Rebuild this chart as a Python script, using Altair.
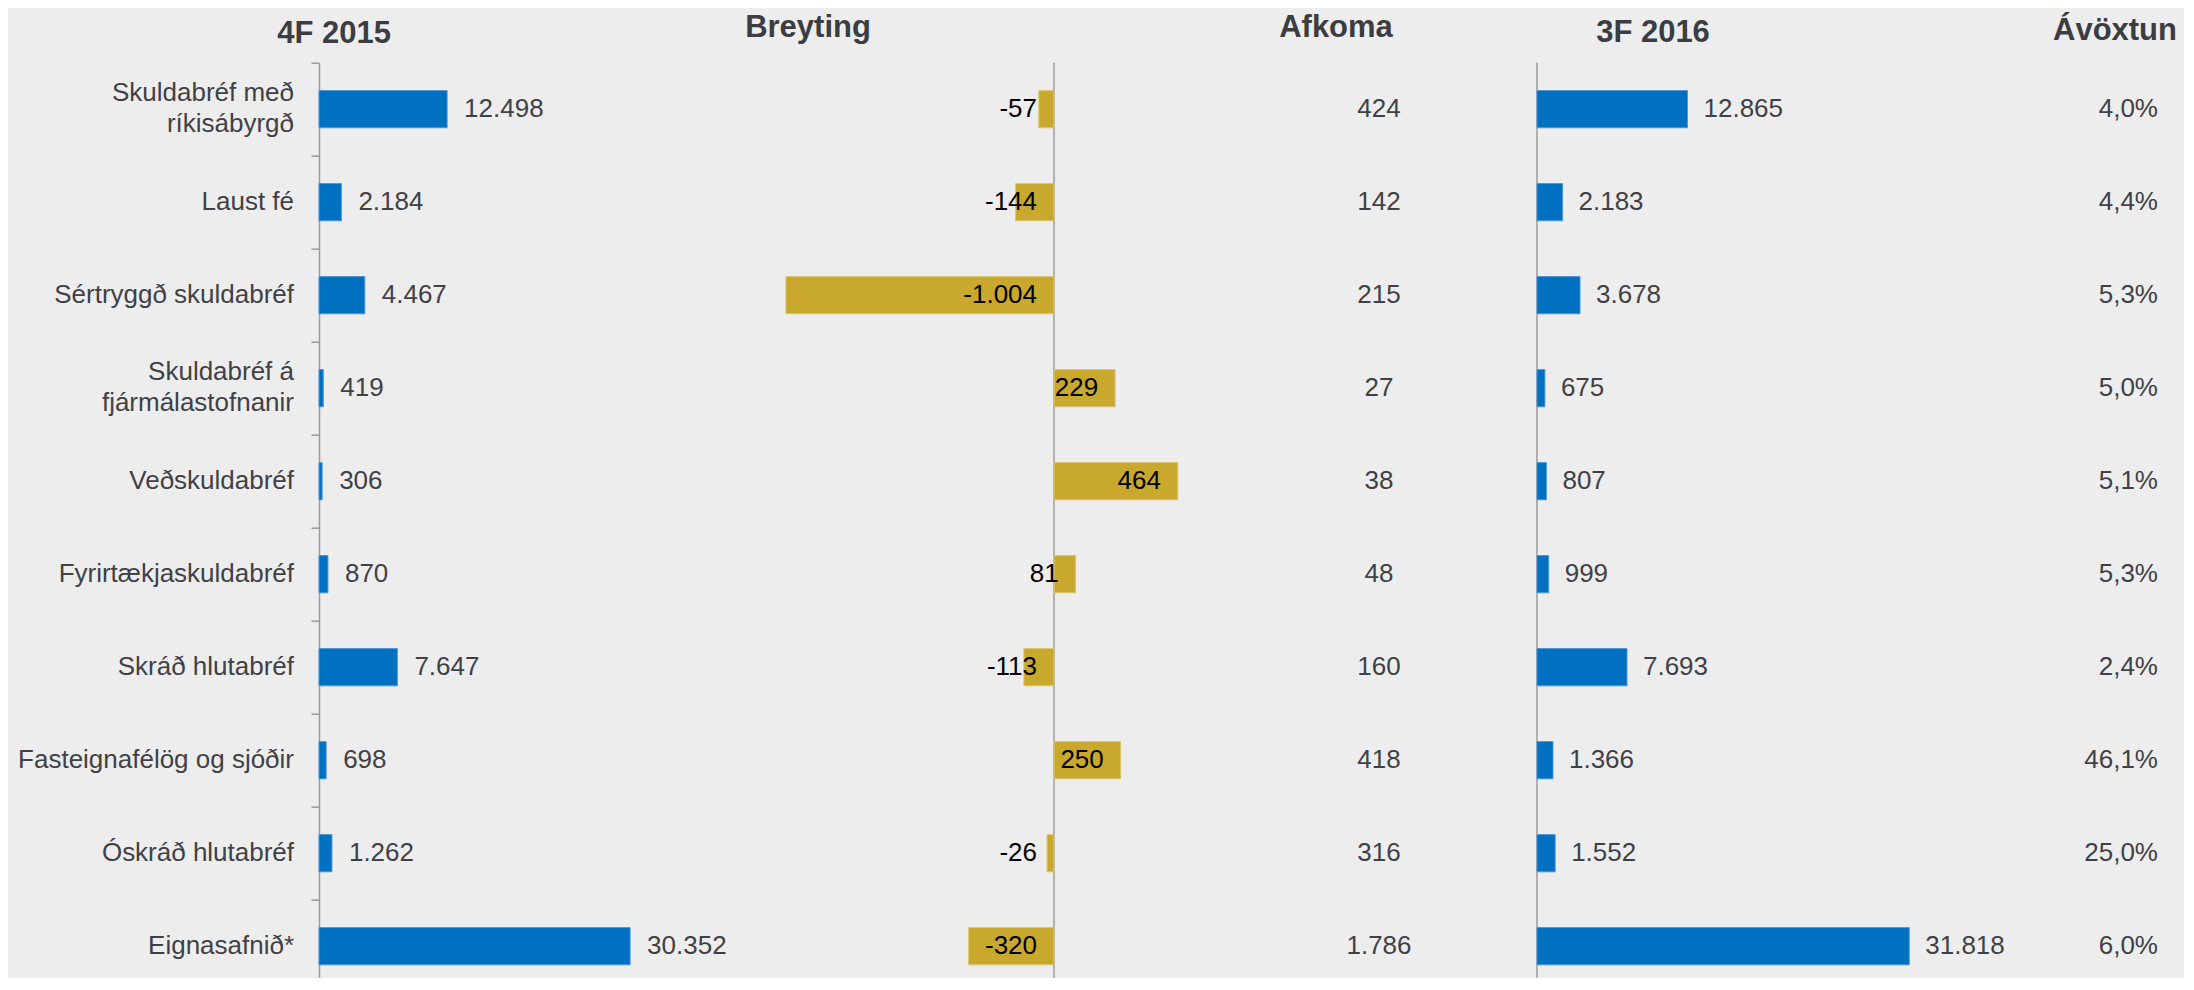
import altair as alt
import pandas as pd

# ---------------- data ----------------
categories = [
    "Skuldabréf með\nríkisábyrgð",
    "Laust fé",
    "Sértryggð skuldabréf",
    "Skuldabréf á\nfjármálastofnanir",
    "Veðskuldabréf",
    "Fyrirtækjaskuldabréf",
    "Skráð hlutabréf",
    "Fasteignafélög og sjóðir",
    "Óskráð hlutabréf",
    "Eignasafnið*",
]
q4_2015 = [12498, 2184, 4467, 419, 306, 870, 7647, 698, 1262, 30352]
breyting = [-57, -144, -1004, 229, 464, 81, -113, 250, -26, -320]
afkoma = [424, 142, 215, 27, 38, 48, 160, 418, 316, 1786]
q3_2016 = [12865, 2183, 3678, 675, 807, 999, 7693, 1366, 1552, 31818]
avoxtun = [4.0, 4.4, 5.3, 5.0, 5.1, 5.3, 2.4, 46.1, 25.0, 6.0]
titles = ["4F 2015", "Breyting", "Afkoma", "3F 2016", "Ávöxtun"]


def isl_int(v):
    return f"{v:,}".replace(",", ".")


def isl_pct(v):
    return f"{v:.1f}".replace(".", ",") + "%"


df = pd.DataFrame({
    "cat": categories,
    "q4": q4_2015,
    "br": breyting,
    "afk": afkoma,
    "q3": q3_2016,
    "avx": avoxtun,
})
df["q4_lbl"] = [isl_int(v) for v in q4_2015]
df["br_lbl"] = [isl_int(v) for v in breyting]
df["afk_lbl"] = [isl_int(v) for v in afkoma]
df["q3_lbl"] = [isl_int(v) for v in q3_2016]
df["avx_lbl"] = [isl_pct(v) for v in avoxtun]

# ---------------- styling / layout ----------------
FONT = "Liberation Sans, Arial, Helvetica, sans-serif"
BLUE = "#0070C0"
BLUE_EDGE = "#4F95D3"
GOLD = "#C9A82E"
GOLD_EDGE = "#DCC774"
BG = "#EDEDED"
TXT = "#3F4146"
AXIS = "#9B9B9B"

PLOT_W = 1865
PLOT_H = 915
ROW_STEP = 93

LEFT_K = 0.01025           # px per unit, left panel
MID_ZERO, MID_K = 735, 0.267
RIGHT_ZERO, RIGHT_K = 1218, 0.0117
AFK_X = 1060
AVX_X = 1839
CAT_X = -25
TITLE_POS = [(15, -20), (489, -26), (1017, -26), (1334, -21), (1796, -23)]

left_scale = alt.Scale(domain=[0, PLOT_W / LEFT_K], nice=False, zero=False)
mid_scale = alt.Scale(domain=[-MID_ZERO / MID_K, (PLOT_W - MID_ZERO) / MID_K], nice=False, zero=False)
right_scale = alt.Scale(domain=[-RIGHT_ZERO / RIGHT_K, (PLOT_W - RIGHT_ZERO) / RIGHT_K], nice=False, zero=False)

y_enc = alt.Y(
    "cat:N",
    sort=categories,
    title=None,
    scale=alt.Scale(paddingInner=0.6, paddingOuter=0.219, align=0.684),
    axis=alt.Axis(
        title=None,
        grid=False,
        domain=True,
        domainColor=AXIS,
        domainWidth=1.5,
        ticks=True,
        tickColor=AXIS,
        tickWidth=1.5,
        tickSize=8,
        tickOffset=-ROW_STEP / 2,
        labels=False,
    ),
)

base = alt.Chart(df)

# category labels (text layers so two-line labels can be centred on the row)
cat_single = base.transform_filter("indexof(datum.cat, '\\n') < 0").mark_text(
    align="right", baseline="middle", font=FONT, fontSize=26, color=TXT
).encode(x=alt.value(CAT_X), y=y_enc, text="cat:N")
cat_multi = base.transform_filter("indexof(datum.cat, '\\n') >= 0").mark_text(
    align="right", baseline="middle", font=FONT, fontSize=26, color=TXT,
    lineBreak="\n", lineHeight=31, dy=-16,
).encode(x=alt.value(CAT_X), y=y_enc, text="cat:N")

# left panel: 4F 2015
left_bars = base.mark_bar(color=BLUE, stroke=BLUE_EDGE, strokeWidth=1).encode(
    x=alt.X("q4:Q", scale=left_scale, axis=None),
    x2=alt.datum(0),
    y=y_enc,
)
left_text = base.mark_text(align="left", baseline="middle", dx=17, font=FONT, fontSize=26, color=TXT).encode(
    x=alt.X("q4:Q", scale=left_scale, axis=None),
    y=y_enc,
    text="q4_lbl:N",
)
left = alt.layer(left_bars, left_text)

# middle panel: Breyting
mid_bars = base.mark_bar(color=GOLD, stroke=GOLD_EDGE, strokeWidth=1).encode(
    x=alt.X("br:Q", scale=mid_scale, axis=None),
    x2=alt.datum(0),
    y=y_enc,
)
mid_text = base.transform_calculate(xpos="max(datum.br, 0)").mark_text(
    align="right", baseline="middle", dx=-17, font=FONT, fontSize=26, color="#000000"
).encode(
    x=alt.X("xpos:Q", scale=mid_scale, axis=None),
    y=y_enc,
    text="br_lbl:N",
)
mid_rule = alt.Chart(pd.DataFrame({"z": [0]})).mark_rule(color=AXIS, strokeWidth=1.5).encode(
    x=alt.X("z:Q", scale=mid_scale, axis=None),
    y=alt.value(0),
    y2=alt.value(PLOT_H),
)
mid = alt.layer(mid_rule, mid_bars, mid_text)

# Afkoma column
afk = base.mark_text(align="center", baseline="middle", font=FONT, fontSize=26, color=TXT).encode(
    x=alt.value(AFK_X),
    y=y_enc,
    text="afk_lbl:N",
)

# right panel: 3F 2016
right_bars = base.mark_bar(color=BLUE, stroke=BLUE_EDGE, strokeWidth=1).encode(
    x=alt.X("q3:Q", scale=right_scale, axis=None),
    x2=alt.datum(0),
    y=y_enc,
)
right_text = base.mark_text(align="left", baseline="middle", dx=16, font=FONT, fontSize=26, color=TXT).encode(
    x=alt.X("q3:Q", scale=right_scale, axis=None),
    y=y_enc,
    text="q3_lbl:N",
)
right_rule = alt.Chart(pd.DataFrame({"z": [0]})).mark_rule(color=AXIS, strokeWidth=1.5).encode(
    x=alt.X("z:Q", scale=right_scale, axis=None),
    y=alt.value(0),
    y2=alt.value(PLOT_H),
)
right = alt.layer(right_rule, right_bars, right_text)

# Ávöxtun column
avx = base.mark_text(align="right", baseline="middle", font=FONT, fontSize=26, color=TXT).encode(
    x=alt.value(AVX_X),
    y=y_enc,
    text="avx_lbl:N",
)

# column titles
title_layers = []
for t, (tx, ty) in zip(titles, TITLE_POS):
    title_layers.append(
        alt.Chart(pd.DataFrame({"t": [t]})).mark_text(
            align="center", baseline="alphabetic", font=FONT, fontSize=31, fontWeight="bold", color="#3B3D42"
        ).encode(x=alt.value(tx), y=alt.value(ty), text="t:N")
    )

chart = (
    alt.layer(left, cat_single, cat_multi, mid, afk, right, avx, *title_layers)
    .resolve_scale(x="independent")
    .properties(
        width=PLOT_W,
        height=PLOT_H,
        padding={"left": 311, "top": 54.7, "right": 0, "bottom": 0},
        autosize=alt.AutoSizeParams(type="none"),
        background=BG,
    )
    .configure_view(stroke=None)
)

chart.save("out.html", embed_options={"renderer": "svg", "actions": False})
